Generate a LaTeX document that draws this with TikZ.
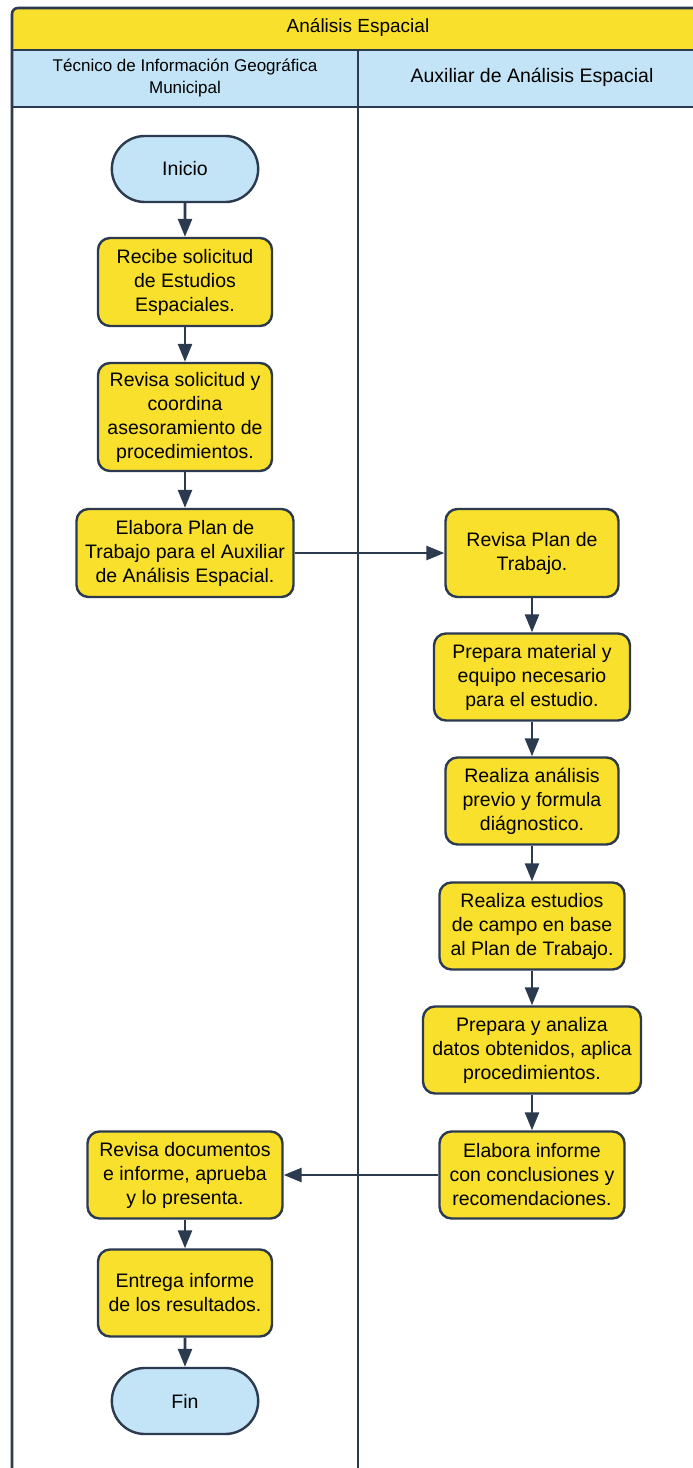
\documentclass[tikz,border=0pt]{standalone}
\usepackage{fontspec}
\setmainfont{Liberation Sans}
\usetikzlibrary{arrows.meta,shapes.misc}
\definecolor{navy}{HTML}{2B3A4E}
\definecolor{fillyellow}{HTML}{F9E02C}
\definecolor{fillblue}{HTML}{C3E4F6}
\tikzset{
  lane/.style={draw=navy,line width=2.6pt},
  stepbox/.style={draw=navy,fill=fillyellow,line width=2.4pt,rounded corners=12pt,
    align=center,inner sep=2pt,font=\fontsize{19.5}{24}\selectfont},
  terminal/.style={draw=navy,fill=fillblue,line width=2.4pt,rounded rectangle,
    minimum width=153pt,minimum height=66pt,font=\fontsize{19.5}{24}\selectfont},
  flow/.style={draw=navy,line width=2.6pt,-{Triangle[length=18pt,width=14pt]}},
}
\begin{document}
\begin{tikzpicture}[x=1pt,y=-1pt]
\useasboundingbox (0,0) rectangle (693,1468);
\begin{scope}
\clip (0,0) rectangle (693,1468);
% pool and lane headers
\fill[fillyellow,rounded corners=6pt] (12,8) -- (720,8) -- (720,50) -- (12,50) -- cycle;
\fill[fillblue] (12,50) rectangle (720,107);
\draw[lane,rounded corners=6pt] (12,1500) -- (12,8) -- (720,8);
\draw[lane] (12,50) -- (720,50);
\draw[lane] (12,107) -- (720,107);
\draw[lane] (358,50) -- (358,1500);
\end{scope}
\node[font=\fontsize{19}{22}\selectfont] (pool) at (358,27) {Análisis Espacial};
\node[align=center,font=\fontsize{17}{21}\selectfont] (laneA) at (185,78) {Técnico de Información Geográfica\\Municipal};
\node[font=\fontsize{19.5}{22}\selectfont] (laneB) at (532,77) {Auxiliar de Análisis Espacial};

% steps
\node[terminal] (inicio) at (185,169) {Inicio};
\node[stepbox,minimum width=174pt,minimum height=88pt] (s1) at (185,282) {Recibe solicitud\\de Estudios\\Espaciales.};
\node[stepbox,minimum width=174pt,minimum height=108pt] (s2) at (185,417) {Revisa solicitud y\\coordina\\asesoramiento de\\procedimientos.};
\node[stepbox,minimum width=217pt,minimum height=88pt] (s3) at (185,553) {Elabora Plan de\\Trabajo para el Auxiliar\\de Análisis Espacial.};
\node[stepbox,minimum width=173pt,minimum height=88pt] (s4) at (532,553) {Revisa Plan de\\Trabajo.};
\node[stepbox,minimum width=196pt,minimum height=87pt] (s5) at (532,677) {Prepara material y\\equipo necesario\\para el estudio.};
\node[stepbox,minimum width=173pt,minimum height=87pt] (s6) at (532,801) {Realiza análisis\\previo y formula\\diágnostico.};
\node[stepbox,minimum width=185pt,minimum height=87pt] (s7) at (532,926) {Realiza estudios\\de campo en base\\al Plan de Trabajo.};
\node[stepbox,minimum width=218pt,minimum height=87pt] (s8) at (532,1050) {Prepara y analiza\\datos obtenidos, aplica\\procedimientos.};
\node[stepbox,minimum width=185pt,minimum height=87pt] (s9) at (532,1175) {Elabora informe\\con conclusiones y\\recomendaciones.};
\node[stepbox,minimum width=195pt,minimum height=87pt] (s10) at (185,1175) {Revisa documentos\\e informe, aprueba\\y lo presenta.};
\node[stepbox,minimum width=174pt,minimum height=87pt] (s11) at (185,1293) {Entrega informe\\de los resultados.};
\node[terminal] (fin) at (185,1401) {Fin};

% connectors
\draw[flow] (inicio) -- (s1);
\draw[flow] (s1) -- (s2);
\draw[flow] (s2) -- (s3);
\draw[flow] (s3) -- (s4);
\draw[flow] (s4) -- (s5);
\draw[flow] (s5) -- (s6);
\draw[flow] (s6) -- (s7);
\draw[flow] (s7) -- (s8);
\draw[flow] (s8) -- (s9);
\draw[flow] (s9) -- (s10);
\draw[flow] (s10) -- (s11);
\draw[flow] (s11) -- (fin);
\end{tikzpicture}
\end{document}
